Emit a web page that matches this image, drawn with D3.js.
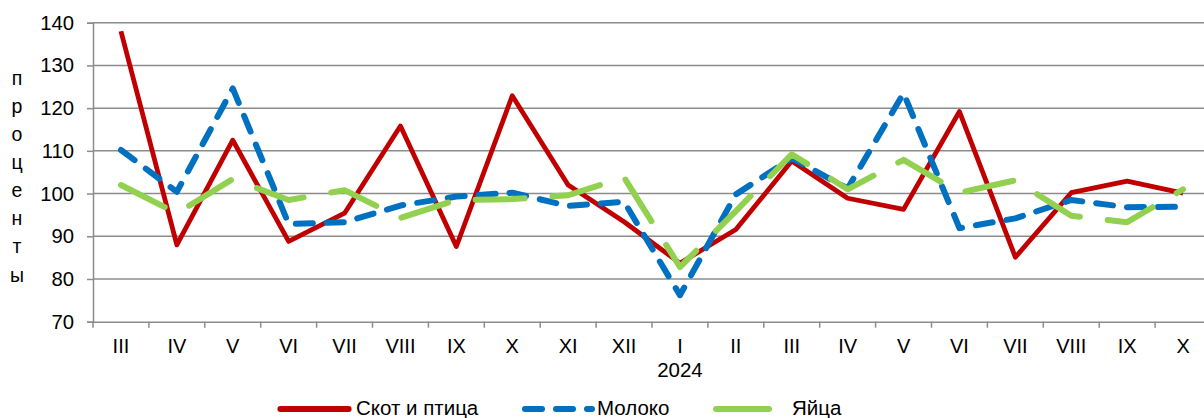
<!DOCTYPE html>
<html><head><meta charset="utf-8">
<script src="https://cdn.jsdelivr.net/npm/d3@7/dist/d3.min.js"></script>
<style>body{margin:0;background:#fff;} svg{display:block;font-family:"Liberation Sans",Arial,sans-serif;}</style>
</head><body>
<svg id="c" width="1204" height="418"></svg>
<script>
const months = ["III","IV","V","VI","VII","VIII","IX","X","XI","XII","I","II","III","IV","V","VI","VII","VIII","IX","X"];
const yearLabel = "2024";
const yearIndex = 10;
const yTicks = [70,80,90,100,110,120,130,140];
const livestock = [138,88,112.5,88.8,95.4,115.8,87.6,122.9,102,93.4,83.7,91.6,107.6,98.9,96.3,119.2,85.1,100.2,102.9,100.1];
const milk      = [110.2,100.4,124.6,92.9,93.3,97.2,99.3,100.2,97.1,98.1,76.2,99.8,108.3,101.2,123.5,91.9,94.2,98.5,96.8,96.9];
const eggs      = [102,95.4,103.4,98.5,100.8,94.3,98.5,98.7,99.6,103.8,82.8,95.9,109.2,101,107.9,100.2,103.1,94.8,93.3,101];
const seriesNames = ["Скот и птица","Молоко","Яйца"];
const yLabel = "проценты";

const svg = d3.select("#c");
const L = 93, R = 93 + 20*55.9, T = 22.7, B = 321.7;
const x = d3.scaleBand().domain(d3.range(months.length)).range([L,R]);
const y = d3.scaleLinear().domain([70,140]).range([B,T]);
const grid = "#8c8c8c";
const FF = "Liberation Sans, Arial, sans-serif";

// gridlines
svg.append("g").selectAll("line").data(yTicks.filter(d=>d>70)).join("line")
  .attr("x1",L).attr("x2",R).attr("y1",d=>y(d)).attr("y2",d=>y(d))
  .attr("stroke",grid).attr("stroke-width",1.5);

// y axis
const ya = svg.append("g").attr("transform",`translate(${L},0)`)
  .call(d3.axisLeft(y).tickValues(yTicks).tickSize(6).tickPadding(13).tickFormat(d3.format("d")));
ya.select(".domain").attr("stroke",grid).attr("stroke-width",1.5);
ya.selectAll(".tick line").attr("stroke",grid).attr("stroke-width",1.5);
ya.selectAll("text").attr("font-size",20.3).attr("fill","#000").attr("font-family",FF);

// x axis
const xa = svg.append("g").attr("transform",`translate(0,${B})`)
  .call(d3.axisBottom(x).tickFormat(i=>months[i]).tickSize(0).tickPadding(17.5));
xa.select(".domain").attr("stroke",grid).attr("stroke-width",1.5);
xa.selectAll("text").attr("font-size",20).attr("fill","#000").attr("font-family",FF);
// band boundary ticks
svg.append("g").selectAll("line").data(d3.range(months.length+1)).join("line")
  .attr("x1",i=>L+i*x.step()).attr("x2",i=>L+i*x.step()).attr("y1",B).attr("y2",B+6)
  .attr("stroke",grid).attr("stroke-width",1.5);
svg.append("text").attr("x",x(yearIndex)+x.bandwidth()/2).attr("y",377)
  .attr("text-anchor","middle").attr("font-size",20.5).text(yearLabel);

// y label, stacked letters
svg.append("g").selectAll("text").data(yLabel.split("")).join("text")
  .attr("x",17).attr("y",(d,i)=>79+i*28.1).attr("dy","0.3em")
  .attr("text-anchor","middle").attr("font-size",19.5).text(d=>d);

const line = d3.line().x((d,i)=>x(i)+x.bandwidth()/2).y(d=>y(d));
const styles = [
  {data:livestock,color:"#C00000",w:4.8,dash:null},
  {data:milk,color:"#0070C0",w:6,dash:"17,14"},
  {data:eggs,color:"#92D050",w:6,dash:"49,28"}
];
[0,1,2].forEach(k=>{
  const s = styles[k];
  svg.append("path").datum(s.data).attr("d",line).attr("fill","none")
    .attr("stroke",s.color).attr("stroke-width",s.w)
    .attr("stroke-linecap",s.dash?"round":"butt").attr("stroke-linejoin","round")
    .attr("stroke-dasharray",s.dash);
});

// legend
const ly = 409;
const leg = [
  {x1:278,x2:351,tx:356,k:0},
  {x1:522,x2:595,tx:597,k:1},
  {x1:713,x2:772,tx:792,k:2}
];
leg.forEach(l=>{
  const s = styles[l.k];
  const cap = s.w/2;
  svg.append("line").attr("x1",l.x1+cap).attr("x2",l.x2-cap).attr("y1",ly).attr("y2",ly)
    .attr("stroke",s.color).attr("stroke-width",6)
    .attr("stroke-linecap","round")
    .attr("stroke-dasharray",l.k===1?s.dash:null);
  svg.append("text").attr("x",l.tx).attr("y",414.5)
    .attr("font-size",20.5).text(seriesNames[l.k]);
});
</script>
</body></html>
